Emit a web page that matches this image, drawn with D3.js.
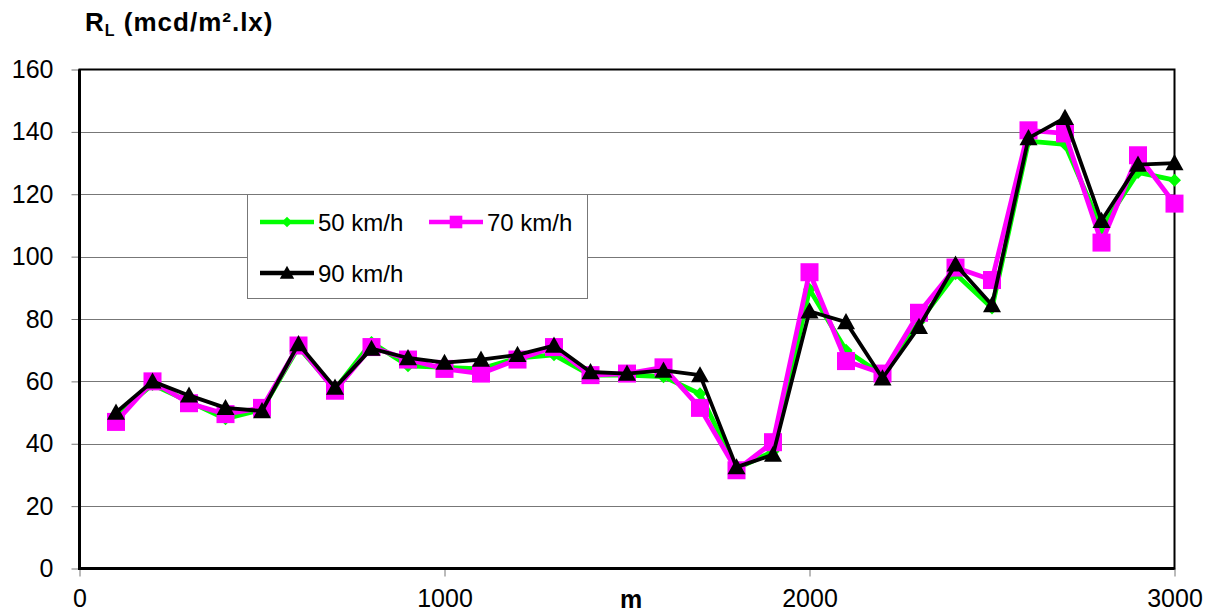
<!DOCTYPE html>
<html>
<head>
<meta charset="utf-8">
<script src="https://cdn.jsdelivr.net/npm/d3@7"></script>
<style>
  html, body { margin: 0; padding: 0; background: #fff; }
  svg { display: block; font-family: "Liberation Sans", Arial, sans-serif; }
</style>
</head>
<body>
<div id="chart"></div>
<script>
// distance along the road (m)
const distances = [100, 200, 300, 400, 500, 600, 700, 800, 900, 1000,
  1100, 1200, 1300, 1400, 1500, 1600, 1700, 1800, 1900, 2000,
  2100, 2200, 2300, 2400, 2500, 2600, 2700, 2800, 2900, 3000];

// RL values per speed
const rl50 = [49, 59, 53.5, 48, 51, 71, 57.5, 72.5, 65, 64.5,
  64, 67.5, 68.5, 62, 62, 61.5, 56, 32, 37.5, 89.5,
  70, 62, 79, 94.5, 83.5, 137, 136, 109, 127, 124.5];
const rl70 = [47, 60, 53, 49.5, 51.5, 71.5, 57, 71, 67, 64,
  62.5, 67, 71, 62, 62.5, 64.5, 51.5, 31.5, 40.5, 95,
  66.5, 62.5, 82, 96.5, 92.5, 140.5, 139.5, 104.5, 132.5, 117];
const rl90 = [50, 60, 55.5, 51.5, 50.5, 72, 58, 70.5, 67.5, 66,
  67, 68.5, 71.5, 63, 62.5, 63.5, 62, 32.5, 36.5, 82.5,
  79, 61, 77.5, 97.5, 84.5, 138, 144.5, 111.5, 129.5, 130];

const yTicks = [0, 20, 40, 60, 80, 100, 120, 140, 160];
const xTicks = [0, 1000, 2000, 3000];

const series = [
  { name: "50 km/h", values: rl50, color: "#00ff00", marker: "diamond" },
  { name: "70 km/h", values: rl70, color: "#ff00ff", marker: "square" },
  { name: "90 km/h", values: rl90, color: "#000000", marker: "triangle" },
];

const W = 1216, H = 614;
const m = { l: 79.5, r: 41.5, t: 69.5, b: 45.5 };
const FONT = "'Liberation Sans', Arial, sans-serif";

const svg = d3.select("#chart").append("svg").attr("width", W).attr("height", H);

const x = d3.scaleLinear().domain([0, 3000]).range([m.l, W - m.r]);
const y = d3.scaleLinear().domain([0, 160]).range([H - m.b, m.t]);

// gridlines
svg.append("g").selectAll("line").data(yTicks.filter(d => d > 0 && d < 160)).enter().append("line")
  .attr("x1", x(0)).attr("x2", x(3000))
  .attr("y1", d => Math.round(y(d)) + 0.5).attr("y2", d => Math.round(y(d)) + 0.5)
  .attr("stroke", "#777").attr("stroke-width", 1);

// y axis
const ya = svg.append("g").attr("transform", `translate(${x(0)},0)`)
  .call(d3.axisLeft(y).tickValues(yTicks).tickSize(8).tickPadding(18));
ya.select(".domain").remove();
ya.selectAll("line").attr("stroke", "#777").attr("stroke-width", 1);
ya.selectAll("text").attr("font-size", 25).attr("fill", "#000").attr("font-family", FONT);

// x axis
const xa = svg.append("g").attr("transform", `translate(0,${y(0)})`)
  .call(d3.axisBottom(x).tickValues(xTicks).tickSize(8).tickPadding(13).tickFormat(d3.format("d")));
xa.select(".domain").remove();
xa.selectAll("line").attr("stroke", "#777").attr("stroke-width", 1);
xa.selectAll("text").attr("font-size", 25).attr("fill", "#000").attr("font-family", FONT);

// frame: heavier left and bottom axis lines
svg.append("rect")
  .attr("x", x(0)).attr("y", y(160))
  .attr("width", x(3000) - x(0)).attr("height", y(0) - y(160))
  .attr("fill", "none").attr("stroke", "#000").attr("stroke-width", 2);
svg.append("path")
  .attr("d", `M${x(0)},${y(160)}V${y(0)}H${x(3000)}`)
  .attr("fill", "none").attr("stroke", "#000").attr("stroke-width", 3);

// axis titles
const yt = svg.append("text").attr("x", 85).attr("y", 31)
  .attr("font-size", 26).attr("font-weight", "bold").attr("letter-spacing", 1);
yt.append("tspan").text("R");
yt.append("tspan").attr("font-size", 16).attr("dy", 5).text("L");
yt.append("tspan").attr("dy", -5).text(" (mcd/m².lx)");

svg.append("text").attr("x", 631).attr("y", 608)
  .attr("text-anchor", "middle").attr("font-size", 25).attr("font-weight", "bold").text("m");

// markers
function drawMarker(g, type, color, cx, cy, scale = 1) {
  if (type === "square") {
    const s = 18 * scale;
    g.append("rect").attr("x", cx - s / 2).attr("y", cy - s / 2)
      .attr("width", s).attr("height", s).attr("fill", color);
  } else if (type === "triangle") {
    const s = 9 * scale;
    g.append("path").attr("d", `M${cx},${cy - s}L${cx + s},${cy + s * 0.8}L${cx - s},${cy + s * 0.8}Z`)
      .attr("fill", color);
  } else {
    const s = 6.5 * scale;
    g.append("path").attr("d", `M${cx},${cy - s}L${cx + s},${cy}L${cx},${cy + s}L${cx - s},${cy}Z`)
      .attr("fill", color);
  }
}

const line = d3.line().x((d, i) => x(distances[i])).y(d => y(d));

series.forEach(s => {
  const g = svg.append("g");
  g.append("path").datum(s.values).attr("d", line)
    .attr("fill", "none").attr("stroke", s.color)
    .attr("stroke-width", s.marker === "triangle" ? 3.8 : 4.8)
    .attr("stroke-linejoin", "round");
  s.values.forEach((v, i) => drawMarker(g, s.marker, s.color, x(distances[i]), y(v)));
});

// legend
const lg = svg.append("g");
lg.append("rect").attr("x", 247.5).attr("y", 194.5).attr("width", 340).attr("height", 104)
  .attr("fill", "#fff").attr("stroke", "#777").attr("stroke-width", 1);
const legendPos = [[260, 222], [429, 222], [260, 273]];
series.forEach((s, i) => {
  const [lx, ly] = legendPos[i];
  lg.append("line").attr("x1", lx).attr("x2", lx + 54).attr("y1", ly).attr("y2", ly)
    .attr("stroke", s.color).attr("stroke-width", 4.5);
  drawMarker(lg, s.marker, s.color, lx + 27, ly, s.marker === "square" ? 0.7 : 0.8);
  lg.append("text").attr("x", lx + 58).attr("y", ly + 8.5).attr("font-size", 24).text(s.name);
});
</script>
</body>
</html>
